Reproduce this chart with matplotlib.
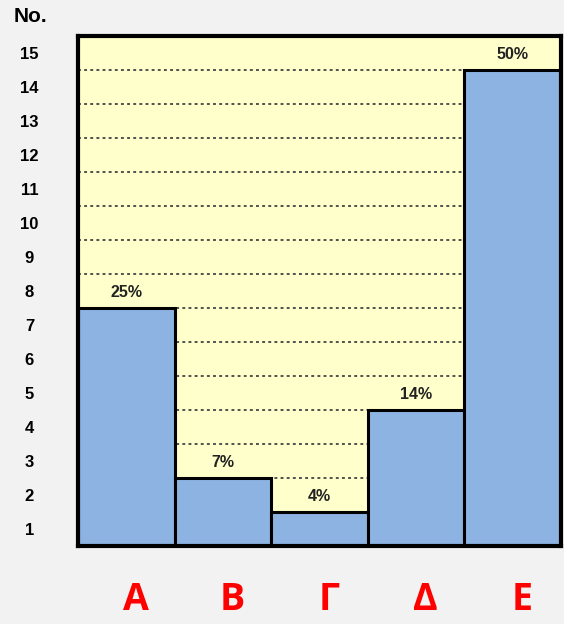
import matplotlib.pyplot as plt
import numpy as np

# Data
categories = ["Α", "Β", "Γ", "Δ", "Ε"]
counts = [7, 2, 1, 4, 14]
percent_labels = ["25%", "7%", "4%", "14%", "50%"]
y_tick_labels = [str(i) for i in range(1, 16)]

fig = plt.figure(figsize=(5.64, 6.24), dpi=100, facecolor="#F2F2F2")
ax = fig.add_axes([78 / 564, 78 / 624, 483 / 564, 510 / 624])
ax.set_facecolor("#FFFFCC")

x = np.arange(len(categories))

# Dotted grid lines at every unit, drawn behind the bars
for level in range(1, 15):
    ax.axhline(level, color="#444444", linestyle=(0, (1.6, 1.8)), linewidth=1.3, zorder=1)

ax.bar(x, counts, width=1.0, color="#8DB3E2", edgecolor="black", linewidth=2.2, zorder=2)

for xi, c, lab in zip(x, counts, percent_labels):
    ax.text(xi, c + 0.45, lab, ha="center", va="center", fontsize=11.5,
            fontweight="bold", color="#222222", family="Liberation Sans", zorder=3)

ax.set_xlim(-0.5, len(categories) - 0.5)
ax.set_ylim(0, 15)

ax.set_yticks(np.arange(1, 16) - 0.5)
ax.set_yticklabels(y_tick_labels, fontsize=12, fontweight="bold", family="Liberation Sans")
ax.tick_params(axis="y", length=0, pad=35)
for lbl in ax.get_yticklabels():
    lbl.set_horizontalalignment("center")

ax.set_xticks(x + 0.1)
ax.set_xticklabels(categories, fontsize=27, fontweight="bold", color="#FF0000", family="Open Sans")
ax.tick_params(axis="x", length=0, pad=25)

for side in ["left", "right", "top", "bottom"]:
    ax.spines[side].set_linewidth(3)
    ax.spines[side].set_color("black")
    ax.spines[side].set_zorder(4)

fig.text(30 / 564, 1 - 16 / 624, "No.", ha="center", va="center", fontsize=15,
         fontweight="bold", family="Liberation Sans")

fig.savefig("out.png", dpi=100, facecolor=fig.get_facecolor())
